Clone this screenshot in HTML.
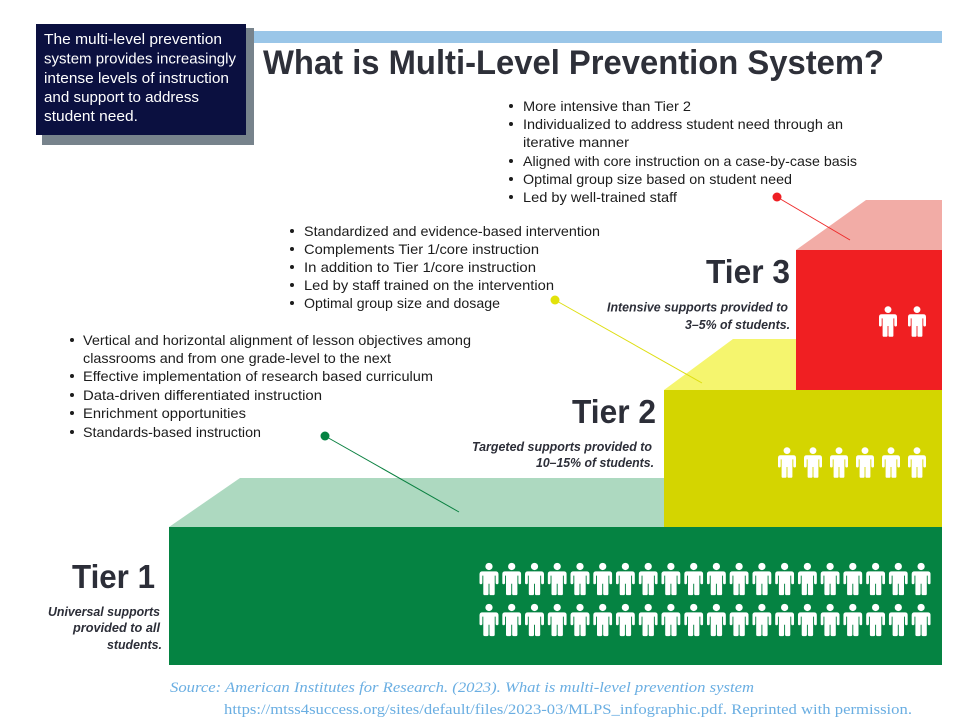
<!DOCTYPE html>
<html>
<head>
<meta charset="utf-8">
<style>
html,body{margin:0;padding:0;background:#fff;}
body{width:968px;height:728px;overflow:hidden;}
svg{display:block;}
.b{font-family:"Liberation Sans",sans-serif;font-size:14px;fill:#1c1c1c;}
.w{font-family:"Liberation Sans",sans-serif;font-size:15px;fill:#ffffff;}
.t{font-family:"Liberation Sans",sans-serif;font-size:33px;font-weight:bold;fill:#2c2e38;}
.s{font-family:"Liberation Sans",sans-serif;font-size:13px;font-weight:bold;font-style:italic;fill:#2c2e38;}
.src{font-family:"Liberation Serif",serif;font-size:15px;fill:#6aaee2;}
</style>
</head>
<body>
<svg width="968" height="728" viewBox="0 0 968 728" xmlns="http://www.w3.org/2000/svg">
<defs>
<symbol id="p" viewBox="0 0 20 34">
<circle cx="10" cy="3.8" r="3.8" fill="#fff"/>
<path fill="#fff" d="M0,12 Q0,9 3,9 L17,9 Q20,9 20,12 L20,21 Q20,22.5 18.5,22.5 Q17,22.5 17,21 L17,13.5 L16,13.5 L16,32.5 Q16,34 14.5,34 L12,34 Q10.5,34 10.5,32.5 L10.5,22 L9.5,22 L9.5,32.5 Q9.5,34 8,34 L5.5,34 Q4,34 4,32.5 L4,13.5 L3,13.5 L3,21 Q3,22.5 1.5,22.5 Q0,22.5 0,21 Z"/>
</symbol>
<g id="row">
<use href="#p" x="479.5" y="0" width="19" height="34"/>
<use href="#p" x="502.2" y="0" width="19" height="34"/>
<use href="#p" x="525.0" y="0" width="19" height="34"/>
<use href="#p" x="547.7" y="0" width="19" height="34"/>
<use href="#p" x="570.5" y="0" width="19" height="34"/>
<use href="#p" x="593.2" y="0" width="19" height="34"/>
<use href="#p" x="615.9" y="0" width="19" height="34"/>
<use href="#p" x="638.7" y="0" width="19" height="34"/>
<use href="#p" x="661.4" y="0" width="19" height="34"/>
<use href="#p" x="684.2" y="0" width="19" height="34"/>
<use href="#p" x="706.9" y="0" width="19" height="34"/>
<use href="#p" x="729.6" y="0" width="19" height="34"/>
<use href="#p" x="752.4" y="0" width="19" height="34"/>
<use href="#p" x="775.1" y="0" width="19" height="34"/>
<use href="#p" x="797.9" y="0" width="19" height="34"/>
<use href="#p" x="820.6" y="0" width="19" height="34"/>
<use href="#p" x="843.3" y="0" width="19" height="34"/>
<use href="#p" x="866.1" y="0" width="19" height="34"/>
<use href="#p" x="888.8" y="0" width="19" height="34"/>
<use href="#p" x="911.6" y="0" width="19" height="34"/>
</g>
</defs>

<!-- header box -->
<rect x="42" y="28" width="212" height="117" fill="#77838c"/>
<rect x="36" y="24" width="210" height="111" fill="#0b1040"/>
<text class="w" x="44" y="44" textLength="178" lengthAdjust="spacingAndGlyphs">The multi-level prevention</text>
<text class="w" x="44" y="63.5" textLength="192" lengthAdjust="spacingAndGlyphs">system provides increasingly</text>
<text class="w" x="44" y="83" textLength="185" lengthAdjust="spacingAndGlyphs">intense levels of instruction</text>
<text class="w" x="44" y="102" textLength="155" lengthAdjust="spacingAndGlyphs">and support to address</text>
<text class="w" x="44" y="121" textLength="94" lengthAdjust="spacingAndGlyphs">student need.</text>

<!-- title bar -->
<rect x="254" y="31" width="688" height="12" fill="#9ac6e8"/>
<text x="263" y="74" font-family="Liberation Sans, sans-serif" font-size="34" font-weight="bold" fill="#2e3039" textLength="621" lengthAdjust="spacingAndGlyphs">What is Multi-Level Prevention System?</text>

<!-- Tier 3 bullets -->
<g>
<circle cx="511" cy="106" r="2" fill="#1c1c1c"/>
<circle cx="511" cy="124" r="2" fill="#1c1c1c"/>
<circle cx="511" cy="161" r="2" fill="#1c1c1c"/>
<circle cx="511" cy="179" r="2" fill="#1c1c1c"/>
<circle cx="511" cy="197" r="2" fill="#1c1c1c"/>
<text class="b" x="523" y="111" textLength="168" lengthAdjust="spacingAndGlyphs">More intensive than Tier 2</text>
<text class="b" x="523" y="129" textLength="320" lengthAdjust="spacingAndGlyphs">Individualized to address student need through an</text>
<text class="b" x="523" y="147" textLength="106" lengthAdjust="spacingAndGlyphs">iterative manner</text>
<text class="b" x="523" y="166" textLength="334" lengthAdjust="spacingAndGlyphs">Aligned with core instruction on a case-by-case basis</text>
<text class="b" x="523" y="184" textLength="269" lengthAdjust="spacingAndGlyphs">Optimal group size based on student need</text>
<text class="b" x="523" y="202" textLength="154" lengthAdjust="spacingAndGlyphs">Led by well-trained staff</text>
</g>

<!-- Tier 2 bullets -->
<g>
<circle cx="292" cy="231" r="2" fill="#1c1c1c"/>
<circle cx="292" cy="249" r="2" fill="#1c1c1c"/>
<circle cx="292" cy="267" r="2" fill="#1c1c1c"/>
<circle cx="292" cy="285" r="2" fill="#1c1c1c"/>
<circle cx="292" cy="303" r="2" fill="#1c1c1c"/>
<text class="b" x="304" y="236" textLength="296" lengthAdjust="spacingAndGlyphs">Standardized and evidence-based intervention</text>
<text class="b" x="304" y="254" textLength="235" lengthAdjust="spacingAndGlyphs">Complements Tier 1/core instruction</text>
<text class="b" x="304" y="272" textLength="232" lengthAdjust="spacingAndGlyphs">In addition to Tier 1/core instruction</text>
<text class="b" x="304" y="290" textLength="250" lengthAdjust="spacingAndGlyphs">Led by staff trained on the intervention</text>
<text class="b" x="304" y="308" textLength="196" lengthAdjust="spacingAndGlyphs">Optimal group size and dosage</text>
</g>

<!-- Tier 1 bullets -->
<g>
<circle cx="72" cy="340" r="2" fill="#1c1c1c"/>
<circle cx="72" cy="376" r="2" fill="#1c1c1c"/>
<circle cx="72" cy="395" r="2" fill="#1c1c1c"/>
<circle cx="72" cy="413" r="2" fill="#1c1c1c"/>
<circle cx="72" cy="432" r="2" fill="#1c1c1c"/>
<text class="b" x="83" y="345" textLength="388" lengthAdjust="spacingAndGlyphs">Vertical and horizontal alignment of lesson objectives among</text>
<text class="b" x="83" y="363" textLength="308" lengthAdjust="spacingAndGlyphs">classrooms and from one grade-level to the next</text>
<text class="b" x="83" y="381" textLength="350" lengthAdjust="spacingAndGlyphs">Effective implementation of research based curriculum</text>
<text class="b" x="83" y="400" textLength="239" lengthAdjust="spacingAndGlyphs">Data-driven differentiated instruction</text>
<text class="b" x="83" y="418" textLength="163" lengthAdjust="spacingAndGlyphs">Enrichment opportunities</text>
<text class="b" x="83" y="437" textLength="178" lengthAdjust="spacingAndGlyphs">Standards-based instruction</text>
</g>

<!-- Tier 1 block -->
<polygon points="169,527 240,478 664,478 664,527" fill="#add9c0"/>
<rect x="169" y="527" width="773" height="138" fill="#058342"/>

<!-- Tier 2 block -->
<polygon points="664,390 733,339 796,339 796,390" fill="#f5f56e"/>
<rect x="664" y="390" width="278" height="137" fill="#d4d500"/>

<!-- Tier 3 block -->
<polygon points="796,250 866,200 942,200 942,250" fill="#f2aca6"/>
<rect x="796" y="250" width="146" height="140" fill="#f01f22"/>

<!-- connectors -->
<line x1="777" y1="197" x2="850" y2="240" stroke="#ee2a2a" stroke-width="1"/>
<circle cx="777" cy="197" r="4.5" fill="#ee1f24"/>
<line x1="555" y1="300" x2="702" y2="383" stroke="#dede10" stroke-width="1"/>
<circle cx="555" cy="300" r="4.5" fill="#e2e20a"/>
<line x1="325" y1="436" x2="459" y2="512" stroke="#0a8040" stroke-width="1"/>
<circle cx="325" cy="436" r="4.5" fill="#058342"/>

<!-- Tier labels -->
<text class="t" x="790" y="283" text-anchor="end" textLength="84" lengthAdjust="spacingAndGlyphs">Tier 3</text>
<text class="s" x="788" y="311.5" text-anchor="end" textLength="181" lengthAdjust="spacingAndGlyphs">Intensive supports provided to</text>
<text class="s" x="790" y="329" text-anchor="end" textLength="105" lengthAdjust="spacingAndGlyphs">3–5% of students.</text>

<text class="t" x="656" y="423" text-anchor="end" textLength="84" lengthAdjust="spacingAndGlyphs">Tier 2</text>
<text class="s" x="652" y="451" text-anchor="end" textLength="180" lengthAdjust="spacingAndGlyphs">Targeted supports provided to</text>
<text class="s" x="654" y="467" text-anchor="end" textLength="118" lengthAdjust="spacingAndGlyphs">10–15% of students.</text>

<text class="t" x="155" y="588" text-anchor="end" textLength="83" lengthAdjust="spacingAndGlyphs">Tier 1</text>
<text class="s" x="160" y="616" text-anchor="end" textLength="112" lengthAdjust="spacingAndGlyphs">Universal supports</text>
<text class="s" x="160" y="632" text-anchor="end" textLength="87" lengthAdjust="spacingAndGlyphs">provided to all</text>
<text class="s" x="162" y="649" text-anchor="end" textLength="55" lengthAdjust="spacingAndGlyphs">students.</text>

<!-- people -->
<use href="#p" x="879" y="306" width="18" height="31"/>
<use href="#p" x="908" y="306" width="18" height="31"/>

<use href="#p" x="778" y="447" width="18" height="31"/>
<use href="#p" x="804" y="447" width="18" height="31"/>
<use href="#p" x="830" y="447" width="18" height="31"/>
<use href="#p" x="856" y="447" width="18" height="31"/>
<use href="#p" x="882" y="447" width="18" height="31"/>
<use href="#p" x="908" y="447" width="18" height="31"/>

<use href="#row" x="0" y="562"/>
<use href="#row" x="0" y="603"/>

<!-- source -->
<text class="src" x="170" y="692" font-style="italic" textLength="584" lengthAdjust="spacingAndGlyphs">Source: American Institutes for Research. (2023). What is multi-level prevention system</text>
<text class="src" x="224" y="714" textLength="688" lengthAdjust="spacingAndGlyphs">https://mtss4success.org/sites/default/files/2023-03/MLPS_infographic.pdf. Reprinted with permission.</text>
</svg>
</body>
</html>
